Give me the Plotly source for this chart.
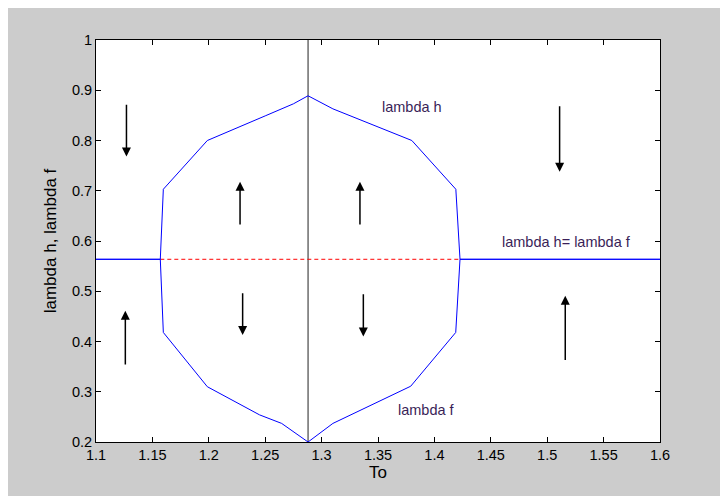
import plotly.graph_objects as go

# lambda h (upper branch) and lambda f (lower branch)
lh_x = [1.10, 1.157, 1.1597, 1.1987, 1.25, 1.275, 1.288, 1.310, 1.380, 1.419, 1.4227, 1.60]
lh_y = [0.5636, 0.5636, 0.703, 0.800, 0.849, 0.873, 0.889, 0.863, 0.800, 0.703, 0.5636, 0.5636]
lf_x = [1.10, 1.157, 1.1597, 1.1987, 1.245, 1.2646, 1.288, 1.310, 1.379, 1.4189, 1.4227, 1.60]
lf_y = [0.5636, 0.5636, 0.418, 0.310, 0.254, 0.237, 0.200, 0.237, 0.311, 0.418, 0.5636, 0.5636]

# equality line segment (dashed) and vertical line
eq_x = [1.157, 1.4227]
eq_y = [0.5636, 0.5636]
vert_x = [1.288, 1.288]
vert_y = [0.2, 1.0]

# arrows: x, start y, end (head) y
arrow_x = [1.127, 1.2277, 1.334, 1.511, 1.126, 1.230, 1.337, 1.516]
arrow_y0 = [0.874, 0.630, 0.630, 0.871, 0.351, 0.499, 0.497, 0.360]
arrow_y1 = [0.768, 0.718, 0.718, 0.738, 0.461, 0.413, 0.410, 0.491]

# labels
label_text = ["lambda h", "lambda f", "lambda h= lambda f"]
label_x = [1.38, 1.393, 1.517]
label_y = [0.867, 0.264, 0.599]

x_ticks = [1.1, 1.15, 1.2, 1.25, 1.3, 1.35, 1.4, 1.45, 1.5, 1.55, 1.6]
y_ticks = [0.2, 0.3, 0.4, 0.5, 0.6, 0.7, 0.8, 0.9, 1.0]

FONT = "Liberation Sans, Arial"
FS = 14.5

fig = go.Figure()
fig.add_trace(go.Scatter(x=vert_x, y=vert_y, mode="lines",
                         line=dict(color="#222222", width=1), showlegend=False))
fig.add_trace(go.Scatter(x=eq_x, y=eq_y, mode="lines",
                         line=dict(color="#ff0000", width=1, dash="4px,3px"), showlegend=False))
fig.add_trace(go.Scatter(x=lh_x, y=lh_y, mode="lines",
                         line=dict(color="#0000ff", width=1), showlegend=False))
fig.add_trace(go.Scatter(x=lf_x, y=lf_y, mode="lines",
                         line=dict(color="#0000ff", width=1), showlegend=False))

annotations = []
for ax_, y0, y1 in zip(arrow_x, arrow_y0, arrow_y1):
    annotations.append(dict(x=ax_, y=y1, ax=ax_, ay=y0, xref="x", yref="y",
                            axref="x", ayref="y", text="", showarrow=True,
                            arrowhead=2, arrowsize=1.2, arrowwidth=1.5,
                            arrowcolor="#000000"))
for t, lx, ly in zip(label_text, label_x, label_y):
    annotations.append(dict(x=lx, y=ly, xref="x", yref="y", text=t, showarrow=False,
                            font=dict(family=FONT, size=FS, color="#3a1f58")))

fig.update_layout(
    width=728, height=496,
    paper_bgcolor="#cccccc", plot_bgcolor="#ffffff",
    margin=dict(l=88, r=76, t=32, b=62),
    font=dict(family=FONT, size=FS, color="#000000"),
    annotations=annotations,
    xaxis=dict(range=[1.1, 1.6], tickvals=x_ticks,
               ticktext=[f"{v:g}" for v in x_ticks],
               ticks="inside", ticklen=5, tickcolor="#000000", mirror="ticks",
               showline=True, linecolor="#000000", linewidth=1, showgrid=False,
               zeroline=False, title=dict(text="To", standoff=2),
               tickfont=dict(size=FS)),
    yaxis=dict(range=[0.2, 1.0], tickvals=y_ticks,
               ticktext=[f"{v:g}" for v in y_ticks],
               ticks="inside", ticklen=5, tickcolor="#000000", mirror="ticks",
               showline=True, linecolor="#000000", linewidth=1, showgrid=False,
               zeroline=False, title=dict(text="lambda h, lambda f", standoff=10),
               tickfont=dict(size=FS)),
)

fig.write_html("out.html")
